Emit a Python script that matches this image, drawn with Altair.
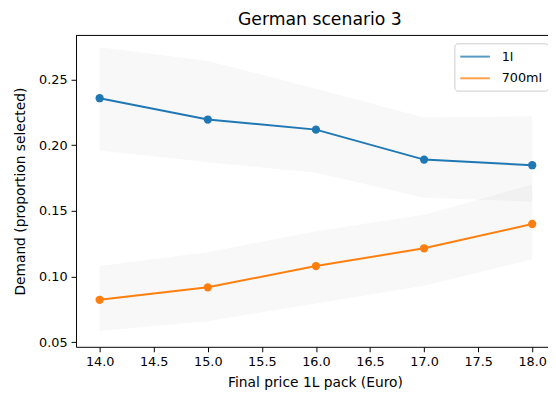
import altair as alt
import pandas as pd

prices = [14.0, 15.0, 16.0, 17.0, 18.0]
series_names = ["1l", "700ml"]
mean_1l = [0.2357, 0.2195, 0.2118, 0.1890, 0.1847]
lo_1l = [0.196, 0.187, 0.179, 0.160, 0.157]
hi_1l = [0.2745, 0.264, 0.243, 0.221, 0.222]
mean_700 = [0.0823, 0.0918, 0.1080, 0.1215, 0.1400]
lo_700 = [0.0585, 0.066, 0.0795, 0.093, 0.113]
hi_700 = [0.108, 0.1185, 0.1345, 0.147, 0.170]

x_ticks = [14.0, 14.5, 15.0, 15.5, 16.0, 16.5, 17.0, 17.5, 18.0]
y_ticks = [0.05, 0.10, 0.15, 0.20, 0.25]

rows = []
for name, m, lo, hi in [("1l", mean_1l, lo_1l, hi_1l), ("700ml", mean_700, lo_700, hi_700)]:
    for p, mv, l, h in zip(prices, m, lo, hi):
        rows.append({"series": name, "price": p, "mean": mv, "lo": l, "hi": h})
df = pd.DataFrame(rows)

FONT = "DejaVu Sans"
W, H = 479, 316

xscale = alt.Scale(domain=[13.7813, 18.1458], nice=False, zero=False)
yscale = alt.Scale(domain=[0.0465, 0.2835], nice=False, zero=False)
color = alt.Color(
    "series:N",
    scale=alt.Scale(domain=series_names, range=["#1f77b4", "#ff7f0e"]),
    legend=alt.Legend(
        title=None, orient="none", legendX=384, legendY=8,
        symbolType="M-1,0H3", symbolStrokeWidth=2, symbolSize=225,
        labelFontSize=13, labelFont=FONT, labelColor="#000",
        fillColor="white", strokeColor="#cccccc", cornerRadius=3,
        padding=5, rowPadding=6, labelOffset=26, symbolOpacity=0.75,
    ),
)

xax = alt.Axis(values=x_ticks, format=".1f", title="Final price 1L pack (Euro)", grid=False, titleX=242.5)
yax = alt.Axis(values=y_ticks, format=".2f", title="Demand (proportion selected)", grid=False)

base = alt.Chart(df)
band = base.mark_area(color="gray", opacity=0.06).encode(
    x=alt.X("price:Q", scale=xscale, axis=xax),
    y=alt.Y("lo:Q", scale=yscale, axis=yax),
    y2="hi:Q",
    detail="series:N",
)
line = base.mark_line(strokeWidth=2).encode(
    x=alt.X("price:Q", scale=xscale),
    y=alt.Y("mean:Q", scale=yscale),
    color=color,
)
pts = base.mark_circle(size=70, opacity=1).encode(
    x=alt.X("price:Q", scale=xscale),
    y=alt.Y("mean:Q", scale=yscale),
    color=alt.Color("series:N", scale=alt.Scale(domain=series_names, range=["#1f77b4", "#ff7f0e"]), legend=None),
)
top_spine = alt.Chart(pd.DataFrame({"a": [0]})).mark_rule(color="black", strokeWidth=1).encode(
    x=alt.value(0), x2=alt.value(W), y=alt.value(0)
)

chart = alt.layer(band, line, pts, top_spine).properties(
    width=W, height=H,
    title=alt.TitleParams("German scenario 3", fontSize=17.5, font=FONT, fontWeight="normal",
                          color="#000", offset=7, dx=8),
    padding={"left": 69, "top": 25, "right": 0, "bottom": 42},
    autosize=alt.AutoSizeParams(type="none"),
).configure_view(stroke=None).configure_axis(
    domainColor="black", domainWidth=1, tickColor="black", tickSize=5, tickWidth=1,
    labelFont=FONT, labelFontSize=13, labelColor="#000", labelPadding=4,
    titleFont=FONT, titleFontSize=14, titleFontWeight="normal", titleColor="#000",
).configure_axisX(titlePadding=7).configure_axisY(titlePadding=11)

chart.save("out.html", embed_options={"renderer": "svg", "actions": False})
